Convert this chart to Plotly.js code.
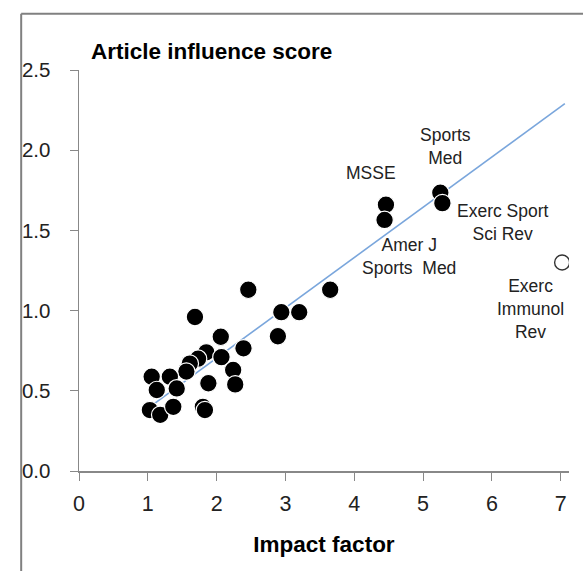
<!DOCTYPE html>
<html>
<head>
<meta charset="utf-8">
<script src="https://cdn.plot.ly/plotly-3.0.1.min.js"></script>
<style>
html,body{margin:0;padding:0;background:#fff;}
#chart{width:583px;height:571px;}
</style>
</head>
<body>
<div id="chart"></div>
<script>
// Journals: impact factor (x) vs article influence score (y)
const impactFactor = [1.685, 2.06, 1.85, 1.73, 1.61, 1.56, 2.07, 2.24, 2.27, 1.88,
  1.056, 1.32, 1.13, 1.42, 1.03, 1.18, 1.37, 1.80, 1.83,
  2.46, 2.94, 3.20, 2.89, 2.39, 3.65, 4.46, 4.44, 5.25, 5.28];
const influenceScore = [0.96, 0.837, 0.74, 0.70, 0.67, 0.62, 0.71, 0.63, 0.54, 0.547,
  0.588, 0.588, 0.505, 0.515, 0.38, 0.35, 0.40, 0.40, 0.38,
  1.13, 0.99, 0.99, 0.84, 0.765, 1.13, 1.66, 1.565, 1.735, 1.67];
// Outlier (open marker)
const outlierX = [7.02];
const outlierY = [1.30];
// Fitted line end points
const fitX = [1.03, 7.06];
const fitY = [0.40, 2.29];
// Labels
const labelText = ["MSSE", "Sports<br>Med", "Exerc Sport<br>Sci Rev", "Amer J<br>Sports  Med", "Exerc<br>Immunol<br>Rev"];
const labelX = [4.25, 5.33, 6.16, 4.79, 6.56];
const labelY = [1.86, 2.02, 1.55, 1.34, 1.01];
const xTicks = [0, 1, 2, 3, 4, 5, 6, 7];
const yTicks = [0, 0.5, 1.0, 1.5, 2.0, 2.5];
const yTickText = ["0.0", "0.5", "1.0", "1.5", "2.0", "2.5"];

const sans = "Liberation Sans, Arial, sans-serif";

const traces = [
  {x: fitX, y: fitY, mode: "lines", type: "scatter",
   line: {color: "#7aa6dc", width: 1.6}, hoverinfo: "skip"},
  {x: impactFactor, y: influenceScore, mode: "markers", type: "scatter",
   marker: {size: 17.5, color: "#000", line: {color: "#fff", width: 1.2}}},
  {x: outlierX, y: outlierY, mode: "markers", type: "scatter",
   marker: {size: 15, color: "#fff", line: {color: "#333", width: 1.4}}}
];

const annotations = labelText.map((t, i) => ({
  x: labelX[i], y: labelY[i], xref: "x", yref: "y", text: t, showarrow: false,
  font: {family: sans, size: 17.5, color: "#222"}, align: "center"
}));
annotations.push({
  xref: "paper", yref: "paper", x: 0.02, y: 1.0, xanchor: "left", yanchor: "bottom",
  text: "<b>Article influence score</b>", showarrow: false, yshift: 4,
  font: {family: sans, size: 22.5, color: "#000"}
});

const layout = {
  width: 583, height: 571,
  margin: {l: 79, r: 14, t: 69.5, b: 100, pad: 0},
  paper_bgcolor: "#fff", plot_bgcolor: "#fff",
  showlegend: false,
  font: {family: sans, color: "#222"},
  xaxis: {
    range: [0, 7.12], tickvals: xTicks, ticks: "outside", ticklen: 8, tickcolor: "#888",
    showline: true, linecolor: "#888", linewidth: 1.5, showgrid: false, zeroline: false,
    tickfont: {family: sans, size: 21.5, color: "#222"}, ticklabelstandoff: 5,
    title: {text: "<b>Impact factor</b>", font: {family: sans, size: 22.5, color: "#000"}, standoff: 21}
  },
  yaxis: {
    range: [0, 2.5], tickvals: yTicks, ticktext: yTickText, ticks: "outside", ticklen: 8, tickcolor: "#888",
    showline: true, linecolor: "#888", linewidth: 1.5, showgrid: false, zeroline: false,
    tickfont: {family: sans, size: 20.5, color: "#222"}, ticklabelstandoff: 15
  },
  annotations: annotations,
  shapes: [
    {type: "line", xref: "paper", yref: "paper", x0: -0.118, x1: 1.03, y0: 1.14, y1: 1.14,
     line: {color: "#808080", width: 2}},
    {type: "line", xref: "paper", yref: "paper", x0: -0.118, x1: -0.118, y0: -0.3, y1: 1.14,
     line: {color: "#808080", width: 2}}
  ]
};

Plotly.newPlot("chart", traces, layout, {displayModeBar: false, staticPlot: true});
</script>
</body>
</html>
